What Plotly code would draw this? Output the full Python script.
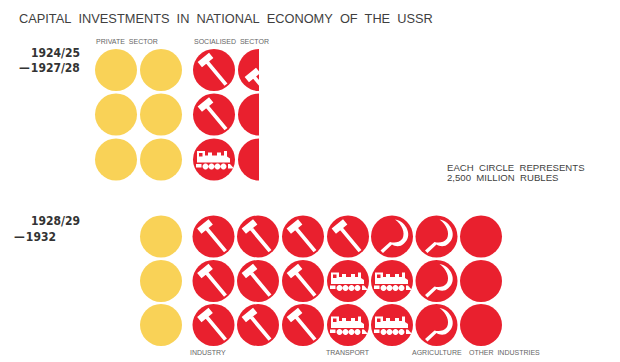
import numpy as np
import plotly.graph_objects as go

# ---------- data ----------
TITLE = "CAPITAL\u00a0 INVESTMENTS\u00a0 IN\u00a0 NATIONAL\u00a0 ECONOMY\u00a0 OF\u00a0 THE\u00a0 USSR"
NOTE_LINES = ["EACH\u00a0 CIRCLE\u00a0 REPRESENTS", "2,500\u00a0 MILLION\u00a0 RUBLES"]
PERIOD_1_LINES = ["1924/25", "\u2014\u200a1927/28"]
PERIOD_2_LINES = ["1928/29", "\u2014\u200a1932"]
# one circle = 2,500 million rubles. P private, I industry, T transport, A agriculture, O other
PERIOD_1_ROWS = [["P", "P", "I", "I"],
                 ["P", "P", "I", "O"],
                 ["P", "P", "T", "O"]]
PERIOD_1_COLUMN_SHARE = [1, 1, 1, 0.5]
PERIOD_2_ROWS = [["P", "I", "I", "I", "I", "A", "A", "O"],
                 ["P", "I", "I", "I", "T", "T", "A", "O"],
                 ["P", "I", "I", "I", "T", "T", "A", "O"]]
PERIOD_2_COLUMN_SHARE = [1, 1, 1, 1, 1, 1, 1, 1]

# ---------- layout / style ----------
RED, YELLOW, INK = "#E9202E", "#F9D257", "#3f3f3f"
DIAM = 42
P1_X = [116, 161, 214, 259]
P2_X = [161, 213.5, 258, 303, 348, 392, 436.5, 481]
P1_Y = [70, 114.5, 159.5]
P2_Y = [236.5, 281, 325]
CUT_HAMMER_SHIFT = (2, 15)


def poly(points):
    return "M" + " L".join(f"{x:.2f},{-y:.2f}" for x, y in points) + " Z"


def rot_rect(cx, cy, ux, uy, half_u, half_v):
    vx, vy = -uy, ux
    return [(cx + a * half_u * ux + b * half_v * vx, cy + a * half_u * uy + b * half_v * vy)
            for a, b in [(1, 1), (1, -1), (-1, -1), (-1, 1)]]


def circle_path(cx, cy, r, n=14):
    t = np.linspace(0, 2 * np.pi, n, endpoint=False)
    return poly(list(zip(cx + r * np.cos(t), cy + r * np.sin(t))))


def hammer(dx=0, dy=0):
    ux, uy = 0.64, 0.77
    hx, hy = -8.5 + dx, -10 + dy
    head = rot_rect(hx, hy, uy, -ux, 7.4, 3.4)
    handle = rot_rect(hx + 17.7 * ux, hy + 17.7 * uy, ux, uy, 14.3, 1.9)
    return poly(head) + " " + poly(handle)


def train():
    body = [(-17, -8.5), (-9, -8.5), (-9, -4), (-6, -4), (-6, -7), (-2, -7), (-2, -4), (3, -4), (3, -7),
            (7, -7), (7, -4), (10, -4), (10, -8.5), (13, -8.5), (13, -3), (16, -1), (16, 3), (-17, 3)]
    window = [(-15, -6.5), (-11.5, -6.5), (-11.5, -3), (-15, -3)]
    tender = [(-18, 4.5), (-12.5, 4.5), (-12.5, 8), (-18, 8)]
    pilot = [(14, 4.5), (16, 4.5), (20, 9), (14, 9)]
    wheels = " ".join(circle_path(x, 7, 3) for x in (-8.5, -2.5, 3.5, 9.5))
    return " ".join([poly(body), poly(window), poly(tender), poly(pilot), wheels])


def sickle():
    def pt(x, y):
        return f"{x},{-y}"
    blade = ("M" + pt(3, -17) + " C" + pt(15, -15) + " " + pt(21, 0) + " " + pt(12, 7)
             + " C" + pt(8, 11) + " " + pt(3, 10) + " " + pt(0, 8)
             + " L" + pt(-9, 16.5) + " L" + pt(-11.5, 14) + " L" + pt(-2, 5.5)
             + " C" + pt(2, 6.5) + " " + pt(7, 6.5) + " " + pt(10.5, 2)
             + " C" + pt(13.5, -4) + " " + pt(10, -12) + " " + pt(3, -17) + " Z")
    return blade


ICONS = {"I": hammer(), "T": train(), "A": sickle()}
fig = go.Figure()
shapes = []
clips = []
pts = {"x": [], "y": [], "c": []}


def place(rows, shares, xs, ys):
    for row, y in zip(rows, ys):
        for code, share, x in zip(row, shares, xs):
            pts["x"].append(x)
            pts["y"].append(y)
            pts["c"].append(YELLOW if code == "P" else RED)
            path = ICONS.get(code)
            if share < 1 and code == "I":
                path = hammer(*CUT_HAMMER_SHIFT)
            if path:
                shapes.append(dict(type="path", path=path, xsizemode="pixel", ysizemode="pixel",
                                   xanchor=x, yanchor=y, xref="x", yref="y",
                                   fillcolor="white", line=dict(width=0), layer="above"))
            if share < 1:
                clips.append(dict(type="rect", xref="x", yref="y", x0=x - DIAM / 2 + DIAM * share,
                                  x1=x + DIAM / 2 + 2, y0=y - DIAM / 2 - 1, y1=y + DIAM / 2 + 1,
                                  fillcolor="white", line=dict(width=0), layer="above"))


place(PERIOD_1_ROWS, PERIOD_1_COLUMN_SHARE, P1_X, P1_Y)
place(PERIOD_2_ROWS, PERIOD_2_COLUMN_SHARE, P2_X, P2_Y)
fig.add_trace(go.Scatter(x=pts["x"], y=pts["y"], mode="markers", hoverinfo="skip",
                         marker=dict(size=DIAM, color=pts["c"], symbol="circle", line=dict(width=0))))


def label(text, x, y, size, anchor="left", family="Liberation Sans", color=INK):
    fig.add_annotation(x=x, y=y, text=text, showarrow=False, xanchor=anchor, yanchor="middle",
                       xref="x", yref="y", align=anchor, borderpad=0,
                       font=dict(family=family, size=size, color=color))


CONDENSED = "DejaVu Sans Condensed, Liberation Sans"
label(TITLE, 18, 18, 12.8)
label("PRIVATE\u00a0 SECTOR", 95, 41, 7, color="#666")
label("SOCIALISED\u00a0 SECTOR", 193, 41, 7, color="#666")
label(f"<b>{PERIOD_1_LINES[0]}</b>", 80.5, 53, 12, "right", CONDENSED, "#333")
label(f"<b>{PERIOD_1_LINES[1]}</b>", 80.5, 68, 12, "right", CONDENSED, "#333")
label(f"<b>{PERIOD_2_LINES[0]}</b>", 80.5, 221, 12, "right", CONDENSED, "#333")
label(f"<b>{PERIOD_2_LINES[1]}</b>", 57, 237, 12, "right", CONDENSED, "#333")
label(NOTE_LINES[0], 446, 167, 9.6)
label(NOTE_LINES[1], 446, 177, 9.6)
for text, x in [("INDUSTRY", 189), ("TRANSPORT", 325), ("AGRICULTURE", 411), ("OTHER\u00a0 INDUSTRIES", 468)]:
    label(text, x, 352, 7, color="#666")

fig.update_layout(width=620, height=362, margin=dict(l=0, r=0, t=0, b=0), showlegend=False,
                  paper_bgcolor="white", plot_bgcolor="white", shapes=shapes + clips,
                  xaxis=dict(range=[0, 620], visible=False, fixedrange=True),
                  yaxis=dict(range=[362, 0], visible=False, fixedrange=True))
fig.write_html("out.html", config=dict(displayModeBar=False), default_width="620px", default_height="362px",
               post_script="document.body.style.margin='0';document.body.style.overflow='hidden';")
